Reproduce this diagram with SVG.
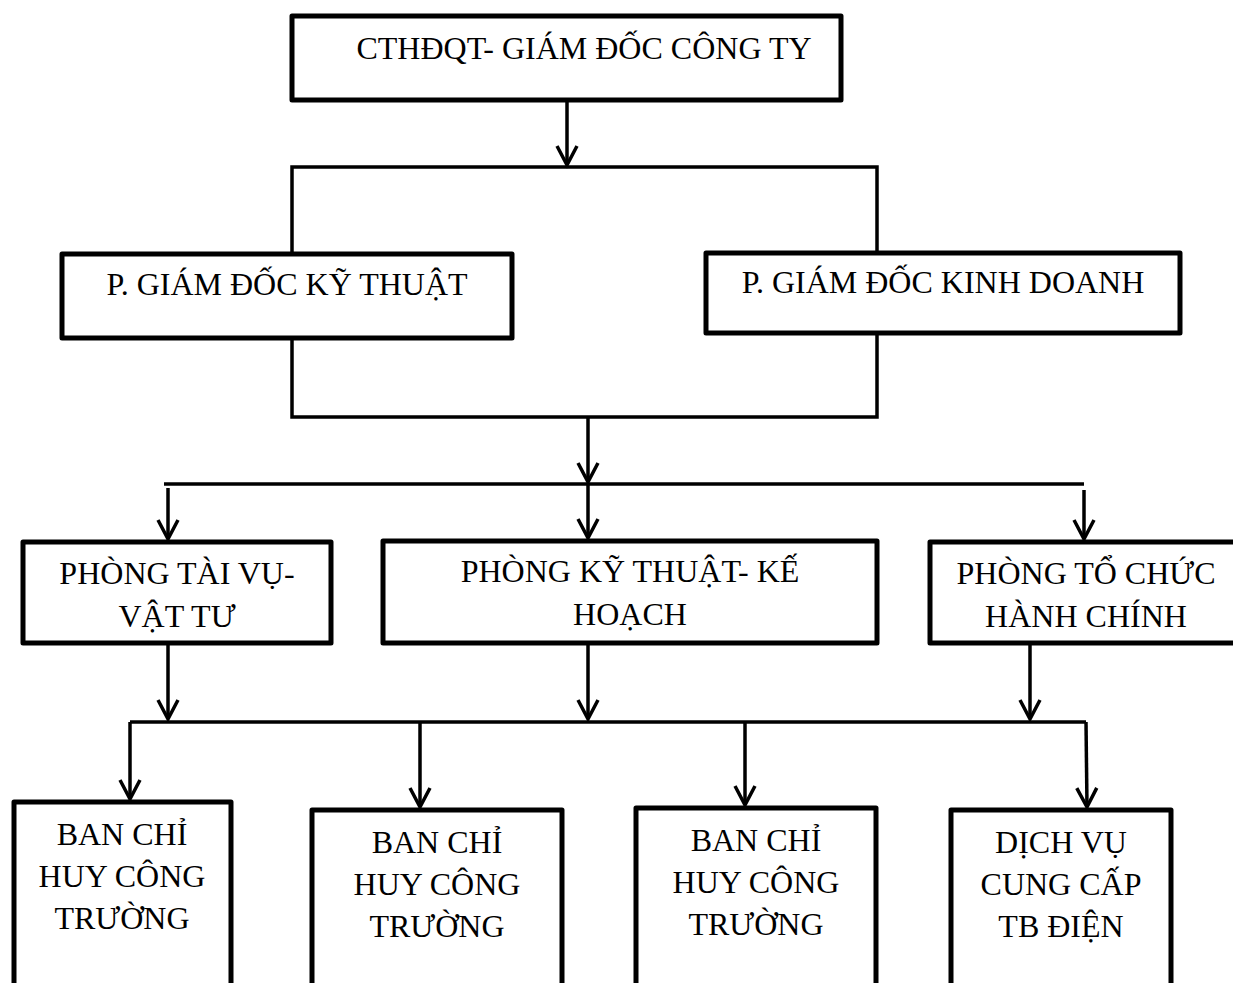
<svg xmlns="http://www.w3.org/2000/svg" width="1233" height="983" viewBox="0 0 1233 983">
  <style>
    .box { fill: #ffffff; stroke: #000000; stroke-width: 5; stroke-linejoin: round; }
    .lbl { font-family: "Liberation Serif", "Times New Roman", serif; font-size: 32px; fill: #000000; text-anchor: middle; }
    .wire { fill: none; stroke: #000000; stroke-width: 3.5; stroke-linecap: butt; }
    .arrow { fill: none; stroke: #000000; stroke-width: 3.5; marker-end: url(#vhead); }
  </style>
  <defs>
    <marker id="vhead" viewBox="-24 -14 28 28" refX="0" refY="0" markerWidth="28" markerHeight="28" markerUnits="userSpaceOnUse" orient="auto">
      <path d="M-19,-10 L0,0 L-19,10" fill="none" stroke="#000000" stroke-width="3.5" stroke-linejoin="miter"/>
    </marker>
  </defs>
  <rect width="1233" height="983" fill="#ffffff"/>

  <!-- connectors -->
  <g id="connectors">
    <!-- director to deputies -->
    <line class="arrow" x1="567" y1="100" x2="567" y2="165"/>
    <polyline class="wire" points="292,256 292,167 877,167 877,256"/>
    <!-- deputies to departments -->
    <polyline class="wire" points="292,338 292,417 877,417 877,333"/>
    <line class="arrow" x1="588" y1="417" x2="588" y2="482"/>
    <line class="wire" x1="164" y1="484" x2="1084" y2="484"/>
    <line class="arrow" x1="168" y1="488" x2="168" y2="539"/>
    <line class="arrow" x1="588" y1="484" x2="588" y2="538"/>
    <line class="arrow" x1="1084" y1="490" x2="1084" y2="539"/>
    <!-- departments to site units -->
    <line class="arrow" x1="168" y1="643" x2="168" y2="719"/>
    <line class="arrow" x1="588" y1="643" x2="588" y2="719"/>
    <line class="arrow" x1="1030" y1="643" x2="1030" y2="719"/>
    <line class="wire" x1="130" y1="722" x2="1086" y2="722"/>
    <polyline class="arrow" points="130,722 130,799"/>
    <line class="arrow" x1="420" y1="722" x2="420" y2="807"/>
    <line class="arrow" x1="745" y1="722" x2="745" y2="805"/>
    <line class="arrow" x1="1086" y1="722" x2="1087" y2="807"/>
  </g>

  <g id="node-director">
    <rect class="box" x="292" y="16" width="549" height="84"/>
    <text class="lbl" x="584" y="59">CTHĐQT- GIÁM ĐỐC CÔNG TY</text>
  </g>

  <g id="node-deputy-technical">
    <rect class="box" x="62" y="254" width="450" height="84"/>
    <text class="lbl" x="287" y="295">P. GIÁM ĐỐC KỸ THUẬT</text>
  </g>

  <g id="node-deputy-business">
    <rect class="box" x="706" y="253" width="474" height="80"/>
    <text class="lbl" x="943" y="293">P. GIÁM ĐỐC KINH DOANH</text>
  </g>

  <g id="node-finance">
    <rect class="box" x="23" y="542" width="308" height="101"/>
    <text class="lbl" x="177" y="584">PHÒNG TÀI VỤ-</text>
    <text class="lbl" x="177" y="627">VẬT TƯ</text>
  </g>

  <g id="node-planning">
    <rect class="box" x="383" y="541" width="494" height="102"/>
    <text class="lbl" x="630" y="582">PHÒNG KỸ THUẬT- KẾ</text>
    <text class="lbl" x="630" y="625">HOẠCH</text>
  </g>

  <g id="node-admin">
    <rect class="box" x="930" y="542" width="312" height="101"/>
    <text class="lbl" x="1086" y="584">PHÒNG TỔ CHỨC</text>
    <text class="lbl" x="1086" y="627">HÀNH CHÍNH</text>
  </g>

  <g id="node-site-1">
    <rect class="box" x="14" y="802" width="217" height="190"/>
    <text class="lbl" x="122" y="845">BAN CHỈ</text>
    <text class="lbl" x="122" y="887">HUY CÔNG</text>
    <text class="lbl" x="122" y="929">TRƯỜNG</text>
  </g>

  <g id="node-site-2">
    <rect class="box" x="312" y="810" width="250" height="190"/>
    <text class="lbl" x="437" y="853">BAN CHỈ</text>
    <text class="lbl" x="437" y="895">HUY CÔNG</text>
    <text class="lbl" x="437" y="937">TRƯỜNG</text>
  </g>

  <g id="node-site-3">
    <rect class="box" x="636" y="808" width="240" height="190"/>
    <text class="lbl" x="756" y="851">BAN CHỈ</text>
    <text class="lbl" x="756" y="893">HUY CÔNG</text>
    <text class="lbl" x="756" y="935">TRƯỜNG</text>
  </g>

  <g id="node-electrical">
    <rect class="box" x="951" y="810" width="220" height="190"/>
    <text class="lbl" x="1061" y="853">DỊCH VỤ</text>
    <text class="lbl" x="1061" y="895">CUNG CẤP</text>
    <text class="lbl" x="1061" y="937">TB ĐIỆN</text>
  </g>
</svg>
